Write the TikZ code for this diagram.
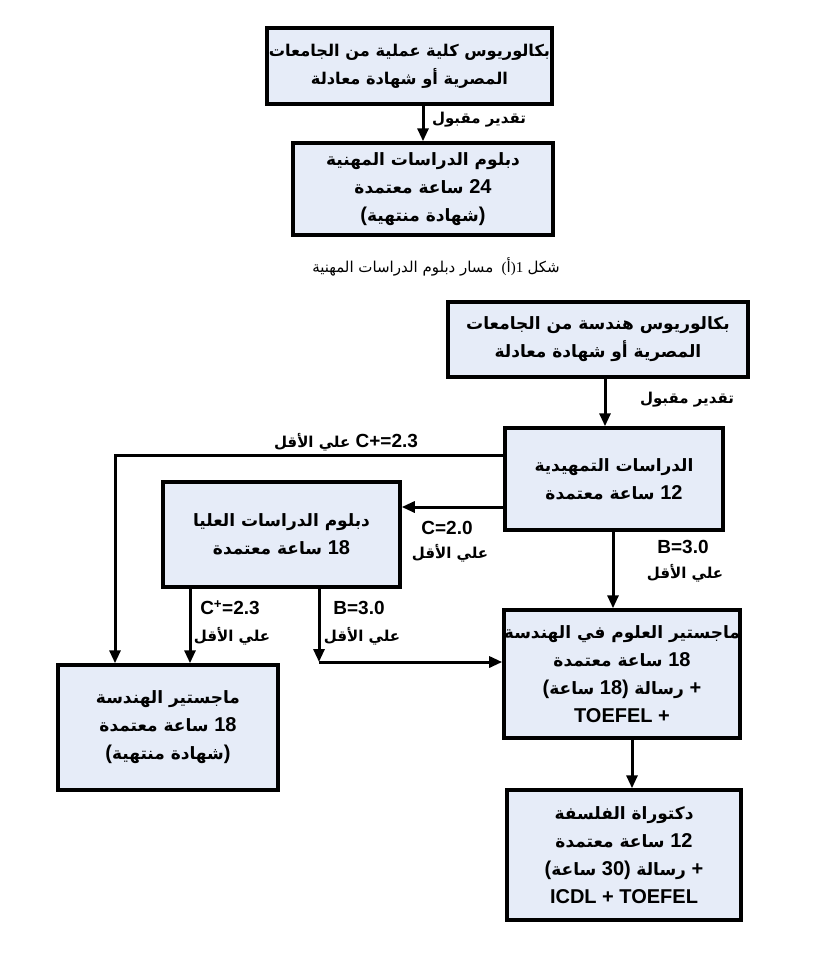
\documentclass[tikz,border=0pt]{standalone}
\usepackage{fontspec}
\usepackage{tikz}
\usetikzlibrary{arrows.meta}
\TeXXeTstate=1
\setmainfont{Liberation Sans}
\newfontfamily\arabicfont[Script=Arabic]{DejaVu Sans}
\newfontfamily\seriffont{Liberation Serif}
\definecolor{boxfill}{RGB}{230,236,248}
\newcommand{\arsize}{}
\newcommand{\ar}[1]{{\arabicfont\arsize\beginR #1\endR}}

\begin{document}
\begin{tikzpicture}[x=1pt,y=-1pt,line width=3pt,
  box/.style={draw,line width=3.5pt,fill=boxfill,align=center,inner sep=0pt,
    font=\bfseries\fontsize{20}{28}\selectfont\def\arsize{\fontsize{17}{28}\selectfont}},
  arr/.style={-{Triangle[length=13pt,width=11pt]}},
  lbl/.style={inner sep=1pt,font=\bfseries\fontsize{19}{20}\selectfont},
  arlbl/.style={inner sep=1pt,font=\bfseries\fontsize{15}{16}\selectfont}]
\useasboundingbox (0,0) rectangle (827,978);
% figure 1 (a)
\node[box,font=\bfseries\fontsize{20}{28}\selectfont\def\arsize{\fontsize{16.2}{28}\selectfont},minimum width=285pt,minimum height=76pt] (bsc1) at (409.5,66) {\ar{بكالوريوس كلية عملية من الجامعات}\\\ar{المصرية أو شهادة معادلة}};
\node[box,minimum width=260pt,minimum height=92pt] (dip1) at (423,189) {\ar{دبلوم الدراسات المهنية}\\\ar{ساعة معتمدة} 24\\(\ar{شهادة منتهية})};
\draw[arr] (bsc1.south -| dip1.north) -- (dip1.north);
\node[arlbl] (pass1) at (479,120) {\ar{تقدير مقبول}};
\node[inner sep=1pt,font=\fontsize{15}{17}\selectfont] (cap1) at (436,267) {\ar{مسار دبلوم الدراسات المهنية}\ \ {\seriffont(\ar{أ})1} \ar{شكل}};
% figure 1 (b)
\node[box,minimum width=300pt,minimum height=75pt] (bsc2) at (598,339.5) {\ar{بكالوريوس هندسة من الجامعات}\\\ar{المصرية أو شهادة معادلة}};
\node[box,minimum width=218pt,minimum height=102pt] (prep) at (614,479) {\ar{الدراسات التمهيدية}\\\ar{ساعة معتمدة} 12};
\node[box,minimum width=237pt,minimum height=105pt] (hdip) at (281.5,534.5) {\ar{دبلوم الدراسات العليا}\\\ar{ساعة معتمدة} 18};
\node[box,minimum width=236pt,minimum height=128pt] (msc) at (622,674) {\ar{ماجستير العلوم في الهندسة}\\\ar{ساعة معتمدة} 18\\(\ar{ساعة} 18) \ar{رسالة} +\\TOEFEL +};
\node[box,minimum width=234pt,minimum height=130pt] (phd) at (624,855) {\ar{دكتوراة الفلسفة}\\\ar{ساعة معتمدة} 12\\(\ar{ساعة} 30) \ar{رسالة} +\\ICDL + TOEFEL};
\node[box,minimum width=220pt,minimum height=125pt] (meng) at (168,727.5) {\ar{ماجستير الهندسة}\\\ar{ساعة معتمدة} 18\\(\ar{شهادة منتهية})};

\coordinate (c1) at (605,0);
\coordinate (c2) at (115,455);
\coordinate (c3) at (0,507);
\coordinate (c4) at (613,0);
\coordinate (c5) at (190,0);
\coordinate (turn) at (319,662);
\coordinate (c6) at (632,0);

\draw[arr] (bsc2.south -| c1) -- (prep.north -| c1);
\draw[arr] (prep.west |- c2) -| (meng.north -| c2);
\draw[arr] (prep.west |- c3) -- (hdip.east |- c3);
\draw[arr] (prep.south -| c4) -- (msc.north -| c4);
\draw[arr] (hdip.south -| c5) -- (meng.north -| c5);
\draw[arr] (hdip.south -| turn) -- (turn);
\draw[arr] (turn) -- (msc.west |- turn);
\draw[arr] (msc.south -| c6) -- (phd.north -| c6);

\node[arlbl] (pass2) at (687,400) {\ar{تقدير مقبول}};
\node[lbl] (g1) at (346,442) {{\arabicfont\fontsize{15}{16}\selectfont\beginR علي الأقل\endR} C+=2.3};
\node[lbl] (g2) at (447,528) {C=2.0};
\node[arlbl] (g2a) at (450,553) {\ar{علي الأقل}};
\node[lbl] (g3) at (683,547) {B=3.0};
\node[arlbl] (g3a) at (685,573) {\ar{علي الأقل}};
\node[lbl] (g4) at (230,608) {C\textsuperscript{+}=2.3};
\node[arlbl] (g4a) at (232,636) {\ar{علي الأقل}};
\node[lbl] (g5) at (359,608) {B=3.0};
\node[arlbl] (g5a) at (362,636) {\ar{علي الأقل}};
\end{tikzpicture}
\end{document}
